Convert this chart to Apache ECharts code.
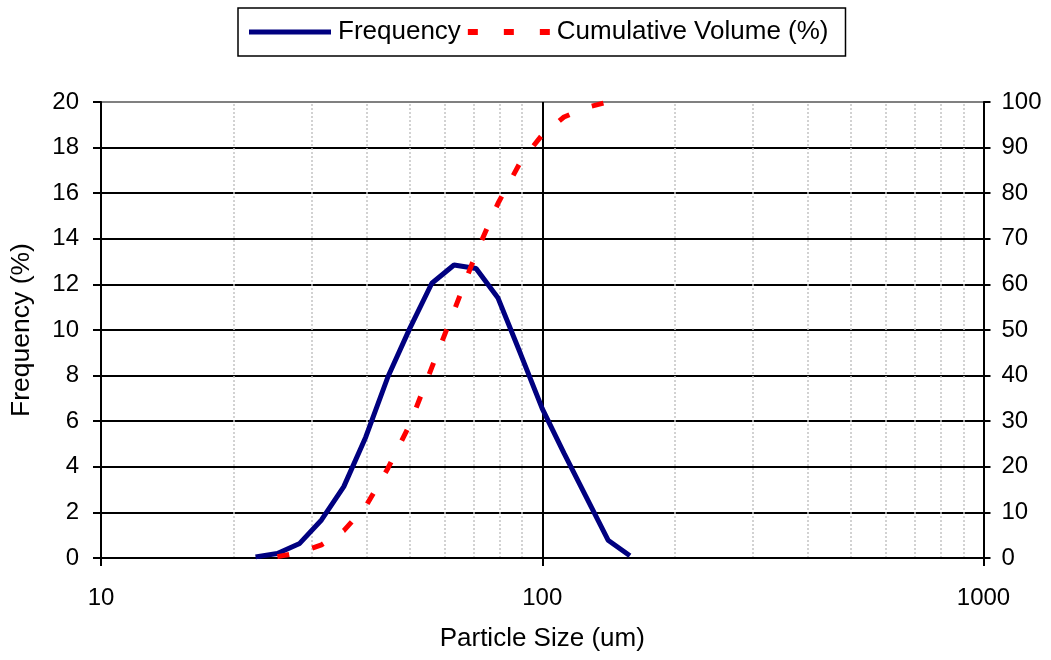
<!DOCTYPE html>
<html>
<head>
<meta charset="utf-8">
<script src="https://cdn.jsdelivr.net/npm/echarts@6/dist/echarts.min.js"></script>
<style>
html,body{margin:0;padding:0;background:#fff;}
#chart{width:1051px;height:660px;}
</style>
</head>
<body>
<div id="chart"></div>
<script>
// Particle size classes (um)
const sizes = [22.4, 25.1, 28.2, 31.6, 35.5, 39.8, 44.7, 50.1, 56.2, 63.1, 70.8, 79.4, 89.1, 100, 112, 126, 141, 158];
// Frequency (%)
const frequency = [0.05, 0.2, 0.64, 1.67, 3.13, 5.3, 7.95, 10.07, 12.05, 12.85, 12.7, 11.4, 9.0, 6.55, 4.6, 2.65, 0.78, 0.1];
// Cumulative volume (%)
const cumulative = [null, 0.3, 1.2, 2.9, 6.0, 11.3, 19.7, 29.3, 41.8, 54.2, 66.8, 77.8, 86.7, 92.8, 96.7, 98.8, 100, null];
// Minor vertical grid positions on the log axis
const minorGrid = [20, 30, 40, 50, 60, 70, 80, 90, 200, 300, 400, 500, 600, 700, 800, 900];
// Tick settings
const xTicks = [10, 100, 1000];
const leftTicks = [0, 2, 4, 6, 8, 10, 12, 14, 16, 18, 20];
const rightTicks = [0, 10, 20, 30, 40, 50, 60, 70, 80, 90, 100];

const FONT = '"Liberation Sans", Arial, sans-serif';
const chart = echarts.init(document.getElementById('chart'), null, {renderer: 'canvas'});

const splitColors = leftTicks.map((v, i) => i === leftTicks.length - 1 ? '#808080' : '#000000');

const option = {
  animation: false,
  backgroundColor: '#ffffff',
  textStyle: {fontFamily: FONT, color: '#000'},
  legend: {
    left: 238,
    top: 8,
    padding: [11, 17, 11, 11],
    borderColor: '#000',
    borderWidth: 1.5,
    itemWidth: 82,
    itemHeight: 6,
    itemGap: 7,
    textStyle: {fontFamily: FONT, fontSize: 26, color: '#000', padding: [0, 0, 0, 2]},
    data: [
      {name: 'Frequency', icon: 'path://M0,0.5H82V5.5H0Z'},
      {name: 'Cumulative Volume (%)', icon: 'path://M0,0H10V6H0Z M36,0H46V6H36Z M72,0H82V6H72Z'}
    ]
  },
  grid: {left: 100, right: 67.5, top: 102, bottom: 102, containLabel: false},
  xAxis: {
    type: 'log',
    logBase: 10,
    min: xTicks[0],
    max: xTicks[xTicks.length - 1],
    name: 'Particle Size (um)',
    nameLocation: 'middle',
    nameGap: 68,
    nameTextStyle: {fontFamily: FONT, fontSize: 26, color: '#000'},
    axisLine: {show: true, lineStyle: {color: '#000', width: 2}},
    axisTick: {show: true, inside: false, length: 8, lineStyle: {color: '#000', width: 2}},
    axisLabel: {fontFamily: FONT, fontSize: 24, color: '#000', margin: 28, formatter: v => String(v)},
    splitLine: {show: true, lineStyle: {color: '#000', width: 2}},
    minorTick: {show: false},
    minorSplitLine: {show: false}
  },
  yAxis: [
    {
      type: 'value',
      min: leftTicks[0],
      max: leftTicks[leftTicks.length - 1],
      interval: 2,
      position: 'left',
      name: 'Frequency (%)',
      nameLocation: 'middle',
      nameGap: 66,
      nameTextStyle: {fontFamily: FONT, fontSize: 26.5, color: '#000'},
      axisLine: {show: true, lineStyle: {color: '#000', width: 2}},
      axisTick: {show: true, inside: false, length: 8, lineStyle: {color: '#000', width: 2}},
      axisLabel: {fontFamily: FONT, fontSize: 24, color: '#000', margin: 22},
      splitLine: {show: true, lineStyle: {color: splitColors, width: 2}}
    },
    {
      type: 'value',
      min: rightTicks[0],
      max: rightTicks[rightTicks.length - 1],
      interval: 10,
      position: 'right',
      axisLine: {show: true, lineStyle: {color: '#000', width: 2}},
      axisTick: {show: true, inside: false, length: 7, lineStyle: {color: '#000', width: 2}},
      axisLabel: {fontFamily: FONT, fontSize: 24, color: '#000', margin: 18},
      splitLine: {show: false}
    }
  ],
  series: [
    {
      name: 'Frequency',
      type: 'line',
      yAxisIndex: 0,
      showSymbol: false,
      symbol: 'none',
      smooth: false,
      lineStyle: {color: '#000080', width: 5},
      itemStyle: {color: '#000080'},
      data: sizes.map((s, i) => [s, frequency[i]]),
      markLine: {
        silent: true,
        symbol: ['none', 'none'],
        z: 0,
        label: {show: false},
        emphasis: {disabled: true},
        lineStyle: {color: '#c4c4c4', type: [2, 2], width: 1.5},
        data: minorGrid.map(v => ({xAxis: v}))
      }
    },
    {
      name: 'Cumulative Volume (%)',
      type: 'line',
      yAxisIndex: 1,
      showSymbol: false,
      symbol: 'none',
      smooth: false,
      connectNulls: false,
      lineStyle: {color: '#ff0000', width: 5, type: [12, 24]},
      itemStyle: {color: '#ff0000'},
      data: sizes.map((s, i) => [s, cumulative[i]])
    }
  ]
};
chart.setOption(option);
</script>
</body>
</html>
